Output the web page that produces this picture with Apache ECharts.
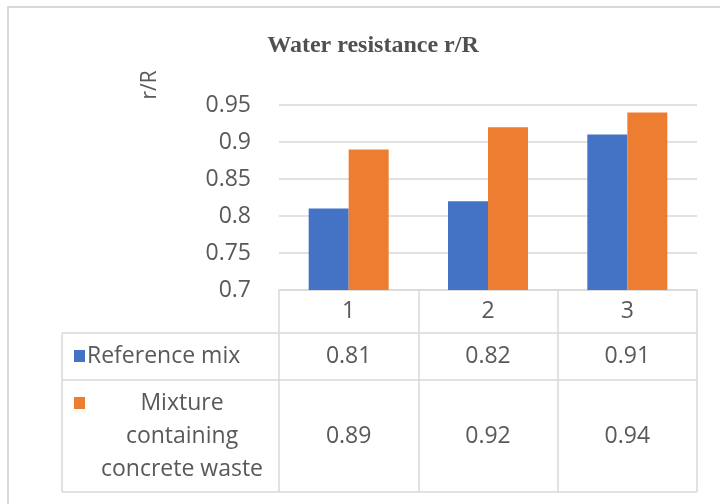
<!DOCTYPE html>
<html>
<head>
<meta charset="utf-8">
<script src="https://cdn.jsdelivr.net/npm/echarts@6/dist/echarts.min.js"></script>
<style>
  html, body { margin: 0; padding: 0; background: #ffffff; }
  #main { width: 720px; height: 504px; }
</style>
</head>
<body>
<div id="main"></div>
<script>
// Water resistance ratio r/R per mix
const categories = ['1', '2', '3'];
const referenceMix = [0.81, 0.82, 0.91];
const concreteWaste = [0.89, 0.92, 0.94];
const seriesNames = ['Reference mix', 'Mixture containing concrete waste'];
const seriesLegendLines = [['Reference mix'], ['Mixture', 'containing', 'concrete waste']];
const yMin = 0.7, yMax = 0.95, yStep = 0.05;
const titleText = 'Water resistance r/R';
const yAxisTitle = 'r/R';

// layout
const GRID = { left: 279, top: 105, width: 418, height: 185 };
const TABLE_LEFT = 62;
const ROW_LINES = [333, 380, 492];
const HEADER_Y = 311;
const ROW_CENTERS = [356, 436];
const colors = ['#4472C4', '#ED7D31'];
const lineColor = '#d9d9d9';
const textColor = '#595959';
const font = 'Open Sans';
const fontSize = 23;

const chart = echarts.init(document.getElementById('main'), null, { renderer: 'canvas' });

const option = {
  animation: false,
  backgroundColor: '#ffffff',
  title: {
    text: titleText,
    left: 368, top: 29, textAlign: 'center',
    textStyle: { fontFamily: 'Liberation Serif', fontWeight: 'bold', fontSize: 24, color: '#505050' }
  },
  grid: { left: GRID.left, top: GRID.top, width: GRID.width, height: GRID.height, containLabel: false },
  xAxis: {
    type: 'category',
    data: categories,
    axisLine: { show: true, lineStyle: { color: lineColor, width: 1.5 } },
    axisTick: { show: true, length: ROW_LINES[2] - (GRID.top + GRID.height), lineStyle: { color: lineColor, width: 1.5 } },
    axisLabel: { fontFamily: font, fontSize: fontSize, color: textColor, margin: HEADER_Y - (GRID.top + GRID.height), verticalAlign: 'middle' },
    splitLine: { show: false }
  },
  yAxis: {
    type: 'value',
    min: yMin, max: yMax, interval: yStep,
    axisLine: { show: false },
    axisTick: { show: false },
    axisLabel: { fontFamily: font, fontSize: fontSize, color: textColor, margin: 28 },
    splitLine: { show: true, lineStyle: { color: lineColor, width: 1.5 } }
  },
  series: [
    { name: seriesNames[0], type: 'bar', data: referenceMix, barWidth: 40, barGap: '0%', itemStyle: { color: colors[0] } },
    { name: seriesNames[1], type: 'bar', data: concreteWaste, barWidth: 40, barGap: '0%', itemStyle: { color: colors[1] } }
  ]
};
chart.setOption(option);

// data table under the plot, aligned with the category axis
const graphics = [];
// outer chart frame
graphics.push({ type: 'rect', shape: { x: 8, y: 7, width: 730, height: 520 }, style: { fill: null, stroke: lineColor, lineWidth: 2 }, silent: true });
// y axis title
graphics.push({
  type: 'text', x: 150, y: 85, rotation: Math.PI / 2,
  style: { text: yAxisTitle, fontFamily: font, fontSize: 21, fill: textColor, align: 'center', verticalAlign: 'middle' }
});
// row separators
ROW_LINES.forEach(function (y) {
  graphics.push({ type: 'line', shape: { x1: TABLE_LEFT, y1: y, x2: GRID.left + GRID.width, y2: y }, style: { stroke: lineColor, lineWidth: 1.5 }, silent: true });
});
graphics.push({ type: 'line', shape: { x1: TABLE_LEFT, y1: ROW_LINES[0], x2: TABLE_LEFT, y2: ROW_LINES[2] }, style: { stroke: lineColor, lineWidth: 1.5 }, silent: true });

const seriesData = [referenceMix, concreteWaste];
seriesData.forEach(function (values, si) {
  const cy = ROW_CENTERS[si];
  const lines = seriesLegendLines[si];
  const lh = 33;
  const firstY = cy - (lines.length - 1) * lh / 2;
  // legend key
  graphics.push({ type: 'rect', shape: { x: 74, y: firstY - 6, width: 11, height: 12 }, style: { fill: colors[si] }, silent: true });
  lines.forEach(function (t, li) {
    const single = lines.length === 1;
    graphics.push({
      type: 'text', x: single ? 87 : 182, y: firstY + li * lh,
      style: { text: t, fontFamily: font, fontSize: fontSize, fill: textColor, align: single ? 'left' : 'center', verticalAlign: 'middle' }
    });
  });
  values.forEach(function (v, ci) {
    const x = chart.convertToPixel({ xAxisIndex: 0 }, categories[ci]);
    graphics.push({
      type: 'text', x: x, y: cy,
      style: { text: String(v), fontFamily: font, fontSize: fontSize, fill: textColor, align: 'center', verticalAlign: 'middle' }
    });
  });
});
chart.setOption({ graphic: graphics });
</script>
</body>
</html>
